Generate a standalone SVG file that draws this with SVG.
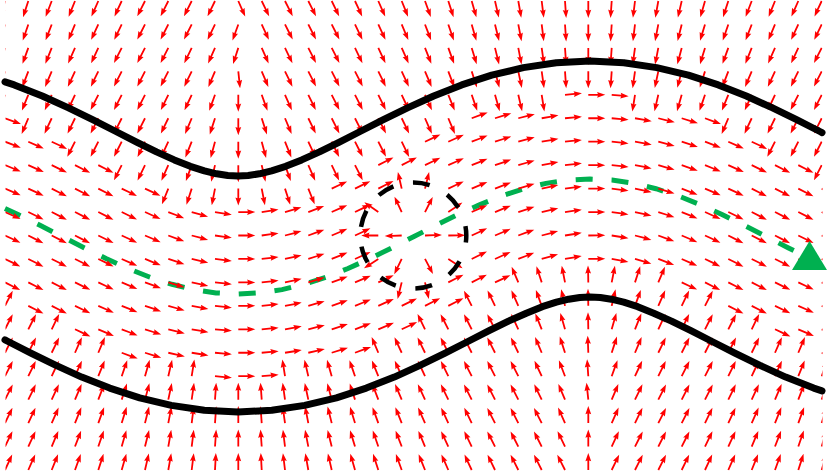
<svg xmlns="http://www.w3.org/2000/svg" xmlns:xlink="http://www.w3.org/1999/xlink" width="829" height="475" viewBox="0 0 829 475">
<style>
.wall{fill:none;stroke:#000;stroke-width:7;stroke-linecap:round;stroke-linejoin:round}
.path{fill:none;stroke:#00b050;stroke-width:5;stroke-dasharray:17 18.9}
.obs{fill:none;stroke:#000;stroke-width:4.5;stroke-dasharray:17 20;stroke-dashoffset:10}
</style>
<defs>
<path id="a" d="M0,-0.9 L9.6,-0.9 L8.8,-2.9 L17,0 L8.8,2.9 L9.6,0.9 L0,0.9 Z" fill="#ff0000"/>
<clipPath id="c"><rect x="5.5" y="0" width="817" height="475"/></clipPath>
</defs>
<rect width="829" height="475" fill="#fff"/>
<g id="centerline"><path class="path" d="M5,208.5 L18,214.5 L40,225.3 L62,236.5 L84,247.7 L106,258.5 L128,268.5 L150,277.2 L172,284.3 L194,289.6 L216,292.9 L238,294 L260,292.9 L282,289.6 L304,284.3 L326,277.2 L348,268.5 L370,258.5 L392,247.7 L414,236.5 L436,225.3 L458,214.5 L480,204.6 L502,195.8 L524,188.7 L546,183.4 L568,180.1 L590,179 L612,180.1 L634,183.4 L656,188.7 L678,195.8 L700,204.6 L722,214.5 L744,225.3 L766,236.5 L788,247.7 L797,252.1"/></g>
<g id="field" clip-path="url(#c)">
<g transform="translate(0,1)"><use href="#a" transform="translate(5)rotate(106)"/><use href="#a" transform="translate(28.3)rotate(108)"/><use href="#a" transform="translate(51.7)rotate(111)"/><use href="#a" transform="translate(75)rotate(112)"/><use href="#a" transform="translate(98.3)rotate(114)"/><use href="#a" transform="translate(121.7)rotate(115)"/><use href="#a" transform="translate(145)rotate(117)"/><use href="#a" transform="translate(168.3)rotate(117)"/><use href="#a" transform="translate(191.7)rotate(117)"/><use href="#a" transform="translate(215)rotate(116)"/><use href="#a" transform="translate(238.3)rotate(66)"/><use href="#a" transform="translate(261.7)rotate(64)"/><use href="#a" transform="translate(285)rotate(63)"/><use href="#a" transform="translate(308.3)rotate(63)"/><use href="#a" transform="translate(331.7)rotate(64)"/><use href="#a" transform="translate(355)rotate(65)"/><use href="#a" transform="translate(378.3)rotate(66)"/><use href="#a" transform="translate(401.7)rotate(68)"/><use href="#a" transform="translate(425)rotate(70)"/><use href="#a" transform="translate(448.3)rotate(72)"/><use href="#a" transform="translate(471.7)rotate(74)"/><use href="#a" transform="translate(495)rotate(77)"/><use href="#a" transform="translate(518.3)rotate(80)"/><use href="#a" transform="translate(541.7)rotate(83)"/><use href="#a" transform="translate(565)rotate(86)"/><use href="#a" transform="translate(588.3)rotate(90)"/><use href="#a" transform="translate(611.7)rotate(94)"/><use href="#a" transform="translate(635)rotate(97)"/><use href="#a" transform="translate(658.3)rotate(100)"/><use href="#a" transform="translate(681.7)rotate(103)"/><use href="#a" transform="translate(705)rotate(106)"/><use href="#a" transform="translate(728.3)rotate(108)"/><use href="#a" transform="translate(751.7)rotate(111)"/><use href="#a" transform="translate(775)rotate(112)"/><use href="#a" transform="translate(798.3)rotate(114)"/><use href="#a" transform="translate(821.7)rotate(115)"/></g>
<g transform="translate(0,24.45)"><use href="#a" transform="translate(5)rotate(107)"/><use href="#a" transform="translate(28.3)rotate(109)"/><use href="#a" transform="translate(51.7)rotate(111)"/><use href="#a" transform="translate(75)rotate(113)"/><use href="#a" transform="translate(98.3)rotate(115)"/><use href="#a" transform="translate(121.7)rotate(116)"/><use href="#a" transform="translate(145)rotate(117)"/><use href="#a" transform="translate(168.3)rotate(117)"/><use href="#a" transform="translate(191.7)rotate(117)"/><use href="#a" transform="translate(215)rotate(116)"/><use href="#a" transform="translate(238.3)rotate(110)"/><use href="#a" transform="translate(261.7)rotate(65)"/><use href="#a" transform="translate(285)rotate(63)"/><use href="#a" transform="translate(308.3)rotate(63)"/><use href="#a" transform="translate(331.7)rotate(63)"/><use href="#a" transform="translate(355)rotate(64)"/><use href="#a" transform="translate(378.3)rotate(65)"/><use href="#a" transform="translate(401.7)rotate(67)"/><use href="#a" transform="translate(425)rotate(69)"/><use href="#a" transform="translate(448.3)rotate(71)"/><use href="#a" transform="translate(471.7)rotate(74)"/><use href="#a" transform="translate(495)rotate(76)"/><use href="#a" transform="translate(518.3)rotate(79)"/><use href="#a" transform="translate(541.7)rotate(83)"/><use href="#a" transform="translate(565)rotate(86)"/><use href="#a" transform="translate(588.3)rotate(90)"/><use href="#a" transform="translate(611.7)rotate(94)"/><use href="#a" transform="translate(635)rotate(97)"/><use href="#a" transform="translate(658.3)rotate(101)"/><use href="#a" transform="translate(681.7)rotate(104)"/><use href="#a" transform="translate(705)rotate(107)"/><use href="#a" transform="translate(728.3)rotate(109)"/><use href="#a" transform="translate(751.7)rotate(111)"/><use href="#a" transform="translate(775)rotate(113)"/><use href="#a" transform="translate(798.3)rotate(115)"/><use href="#a" transform="translate(821.7)rotate(116)"/></g>
<g transform="translate(0,47.9)"><use href="#a" transform="translate(5)rotate(107)"/><use href="#a" transform="translate(28.3)rotate(110)"/><use href="#a" transform="translate(51.7)rotate(112)"/><use href="#a" transform="translate(75)rotate(114)"/><use href="#a" transform="translate(98.3)rotate(115)"/><use href="#a" transform="translate(121.7)rotate(117)"/><use href="#a" transform="translate(145)rotate(117)"/><use href="#a" transform="translate(168.3)rotate(117)"/><use href="#a" transform="translate(191.7)rotate(116)"/><use href="#a" transform="translate(215)rotate(114)"/><use href="#a" transform="translate(238.3)rotate(108)"/><use href="#a" transform="translate(261.7)rotate(66)"/><use href="#a" transform="translate(285)rotate(64)"/><use href="#a" transform="translate(308.3)rotate(63)"/><use href="#a" transform="translate(331.7)rotate(63)"/><use href="#a" transform="translate(355)rotate(64)"/><use href="#a" transform="translate(378.3)rotate(65)"/><use href="#a" transform="translate(401.7)rotate(66)"/><use href="#a" transform="translate(425)rotate(68)"/><use href="#a" transform="translate(448.3)rotate(70)"/><use href="#a" transform="translate(471.7)rotate(73)"/><use href="#a" transform="translate(495)rotate(76)"/><use href="#a" transform="translate(518.3)rotate(79)"/><use href="#a" transform="translate(541.7)rotate(82)"/><use href="#a" transform="translate(565)rotate(86)"/><use href="#a" transform="translate(588.3)rotate(90)"/><use href="#a" transform="translate(611.7)rotate(94)"/><use href="#a" transform="translate(635)rotate(98)"/><use href="#a" transform="translate(658.3)rotate(101)"/><use href="#a" transform="translate(681.7)rotate(105)"/><use href="#a" transform="translate(705)rotate(107)"/><use href="#a" transform="translate(728.3)rotate(110)"/><use href="#a" transform="translate(751.7)rotate(112)"/><use href="#a" transform="translate(775)rotate(114)"/><use href="#a" transform="translate(798.3)rotate(115)"/><use href="#a" transform="translate(821.7)rotate(117)"/></g>
<g transform="translate(0,71.35)"><use href="#a" transform="translate(5)rotate(108)"/><use href="#a" transform="translate(28.3)rotate(111)"/><use href="#a" transform="translate(51.7)rotate(113)"/><use href="#a" transform="translate(75)rotate(115)"/><use href="#a" transform="translate(98.3)rotate(116)"/><use href="#a" transform="translate(121.7)rotate(117)"/><use href="#a" transform="translate(145)rotate(117)"/><use href="#a" transform="translate(168.3)rotate(117)"/><use href="#a" transform="translate(191.7)rotate(116)"/><use href="#a" transform="translate(215)rotate(113)"/><use href="#a" transform="translate(238.3)rotate(84)"/><use href="#a" transform="translate(261.7)rotate(67)"/><use href="#a" transform="translate(285)rotate(64)"/><use href="#a" transform="translate(308.3)rotate(63)"/><use href="#a" transform="translate(331.7)rotate(63)"/><use href="#a" transform="translate(355)rotate(63)"/><use href="#a" transform="translate(378.3)rotate(64)"/><use href="#a" transform="translate(401.7)rotate(65)"/><use href="#a" transform="translate(425)rotate(67)"/><use href="#a" transform="translate(448.3)rotate(69)"/><use href="#a" transform="translate(471.7)rotate(72)"/><use href="#a" transform="translate(495)rotate(75)"/><use href="#a" transform="translate(518.3)rotate(78)"/><use href="#a" transform="translate(541.7)rotate(82)"/><use href="#a" transform="translate(565)rotate(86)"/><use href="#a" transform="translate(588.3)rotate(90)"/><use href="#a" transform="translate(611.7)rotate(94)"/><use href="#a" transform="translate(635)rotate(98)"/><use href="#a" transform="translate(658.3)rotate(102)"/><use href="#a" transform="translate(681.7)rotate(105)"/><use href="#a" transform="translate(705)rotate(108)"/><use href="#a" transform="translate(728.3)rotate(111)"/><use href="#a" transform="translate(751.7)rotate(113)"/><use href="#a" transform="translate(775)rotate(115)"/><use href="#a" transform="translate(798.3)rotate(116)"/><use href="#a" transform="translate(821.7)rotate(117)"/></g>
<g transform="translate(0,94.8)"><use href="#a" transform="translate(5)rotate(109)"/><use href="#a" transform="translate(28.3)rotate(112)"/><use href="#a" transform="translate(51.7)rotate(114)"/><use href="#a" transform="translate(75)rotate(115)"/><use href="#a" transform="translate(98.3)rotate(117)"/><use href="#a" transform="translate(121.7)rotate(117)"/><use href="#a" transform="translate(145)rotate(117)"/><use href="#a" transform="translate(168.3)rotate(116)"/><use href="#a" transform="translate(191.7)rotate(115)"/><use href="#a" transform="translate(215)rotate(110)"/><use href="#a" transform="translate(238.3)rotate(90)"/><use href="#a" transform="translate(261.7)rotate(70)"/><use href="#a" transform="translate(285)rotate(66)"/><use href="#a" transform="translate(308.3)rotate(64)"/><use href="#a" transform="translate(331.7)rotate(63)"/><use href="#a" transform="translate(355)rotate(63)"/><use href="#a" transform="translate(378.3)rotate(64)"/><use href="#a" transform="translate(401.7)rotate(65)"/><use href="#a" transform="translate(425)rotate(66)"/><use href="#a" transform="translate(448.3)rotate(68)"/><use href="#a" transform="translate(471.7)rotate(71)"/><use href="#a" transform="translate(495)rotate(74)"/><use href="#a" transform="translate(518.3)rotate(77)"/><use href="#a" transform="translate(541.7)rotate(81)"/><use href="#a" transform="translate(565)rotate(-5)"/><use href="#a" transform="translate(588.3)rotate(0)"/><use href="#a" transform="translate(611.7)rotate(5)"/><use href="#a" transform="translate(635)rotate(99)"/><use href="#a" transform="translate(658.3)rotate(103)"/><use href="#a" transform="translate(681.7)rotate(106)"/><use href="#a" transform="translate(705)rotate(109)"/><use href="#a" transform="translate(728.3)rotate(112)"/><use href="#a" transform="translate(751.7)rotate(114)"/><use href="#a" transform="translate(775)rotate(115)"/><use href="#a" transform="translate(798.3)rotate(117)"/><use href="#a" transform="translate(821.7)rotate(117)"/></g>
<g transform="translate(0,118.25)"><use href="#a" transform="translate(5)rotate(20)"/><use href="#a" transform="translate(28.3)rotate(113)"/><use href="#a" transform="translate(51.7)rotate(115)"/><use href="#a" transform="translate(75)rotate(116)"/><use href="#a" transform="translate(98.3)rotate(117)"/><use href="#a" transform="translate(121.7)rotate(117)"/><use href="#a" transform="translate(145)rotate(117)"/><use href="#a" transform="translate(168.3)rotate(116)"/><use href="#a" transform="translate(191.7)rotate(113)"/><use href="#a" transform="translate(215)rotate(108)"/><use href="#a" transform="translate(238.3)rotate(90)"/><use href="#a" transform="translate(261.7)rotate(72)"/><use href="#a" transform="translate(285)rotate(67)"/><use href="#a" transform="translate(308.3)rotate(64)"/><use href="#a" transform="translate(331.7)rotate(63)"/><use href="#a" transform="translate(355)rotate(63)"/><use href="#a" transform="translate(378.3)rotate(63)"/><use href="#a" transform="translate(401.7)rotate(64)"/><use href="#a" transform="translate(425)rotate(66)"/><use href="#a" transform="translate(448.3)rotate(67)"/><use href="#a" transform="translate(471.7)rotate(-20)"/><use href="#a" transform="translate(495)rotate(-17)"/><use href="#a" transform="translate(518.3)rotate(-14)"/><use href="#a" transform="translate(541.7)rotate(-10)"/><use href="#a" transform="translate(565)rotate(-5)"/><use href="#a" transform="translate(588.3)rotate(0)"/><use href="#a" transform="translate(611.7)rotate(5)"/><use href="#a" transform="translate(635)rotate(10)"/><use href="#a" transform="translate(658.3)rotate(14)"/><use href="#a" transform="translate(681.7)rotate(17)"/><use href="#a" transform="translate(705)rotate(20)"/><use href="#a" transform="translate(728.3)rotate(113)"/><use href="#a" transform="translate(751.7)rotate(115)"/><use href="#a" transform="translate(775)rotate(116)"/><use href="#a" transform="translate(798.3)rotate(117)"/><use href="#a" transform="translate(821.7)rotate(117)"/></g>
<g transform="translate(0,141.7)"><use href="#a" transform="translate(5)rotate(21)"/><use href="#a" transform="translate(28.3)rotate(24)"/><use href="#a" transform="translate(51.7)rotate(25)"/><use href="#a" transform="translate(75)rotate(117)"/><use href="#a" transform="translate(98.3)rotate(117)"/><use href="#a" transform="translate(121.7)rotate(117)"/><use href="#a" transform="translate(145)rotate(116)"/><use href="#a" transform="translate(168.3)rotate(115)"/><use href="#a" transform="translate(191.7)rotate(112)"/><use href="#a" transform="translate(215)rotate(105)"/><use href="#a" transform="translate(238.3)rotate(90)"/><use href="#a" transform="translate(261.7)rotate(75)"/><use href="#a" transform="translate(285)rotate(68)"/><use href="#a" transform="translate(308.3)rotate(65)"/><use href="#a" transform="translate(331.7)rotate(64)"/><use href="#a" transform="translate(355)rotate(63)"/><use href="#a" transform="translate(378.3)rotate(63)"/><use href="#a" transform="translate(401.7)rotate(64)"/><use href="#a" transform="translate(425)rotate(-25)"/><use href="#a" transform="translate(448.3)rotate(-24)"/><use href="#a" transform="translate(471.7)rotate(-21)"/><use href="#a" transform="translate(495)rotate(-18)"/><use href="#a" transform="translate(518.3)rotate(-15)"/><use href="#a" transform="translate(541.7)rotate(-10)"/><use href="#a" transform="translate(565)rotate(-6)"/><use href="#a" transform="translate(588.3)rotate(0)"/><use href="#a" transform="translate(611.7)rotate(6)"/><use href="#a" transform="translate(635)rotate(10)"/><use href="#a" transform="translate(658.3)rotate(15)"/><use href="#a" transform="translate(681.7)rotate(18)"/><use href="#a" transform="translate(705)rotate(21)"/><use href="#a" transform="translate(728.3)rotate(24)"/><use href="#a" transform="translate(751.7)rotate(25)"/><use href="#a" transform="translate(775)rotate(117)"/><use href="#a" transform="translate(798.3)rotate(117)"/><use href="#a" transform="translate(821.7)rotate(117)"/></g>
<g transform="translate(0,165.15)"><use href="#a" transform="translate(5)rotate(22)"/><use href="#a" transform="translate(28.3)rotate(24)"/><use href="#a" transform="translate(51.7)rotate(26)"/><use href="#a" transform="translate(75)rotate(27)"/><use href="#a" transform="translate(98.3)rotate(27)"/><use href="#a" transform="translate(121.7)rotate(117)"/><use href="#a" transform="translate(145)rotate(116)"/><use href="#a" transform="translate(168.3)rotate(114)"/><use href="#a" transform="translate(191.7)rotate(110)"/><use href="#a" transform="translate(215)rotate(103)"/><use href="#a" transform="translate(238.3)rotate(90)"/><use href="#a" transform="translate(261.7)rotate(77)"/><use href="#a" transform="translate(285)rotate(70)"/><use href="#a" transform="translate(308.3)rotate(66)"/><use href="#a" transform="translate(331.7)rotate(64)"/><use href="#a" transform="translate(355)rotate(63)"/><use href="#a" transform="translate(378.3)rotate(-27)"/><use href="#a" transform="translate(401.7)rotate(-27)"/><use href="#a" transform="translate(425)rotate(-26)"/><use href="#a" transform="translate(448.3)rotate(-24)"/><use href="#a" transform="translate(471.7)rotate(-22)"/><use href="#a" transform="translate(495)rotate(-19)"/><use href="#a" transform="translate(518.3)rotate(-16)"/><use href="#a" transform="translate(541.7)rotate(-11)"/><use href="#a" transform="translate(565)rotate(-6)"/><use href="#a" transform="translate(588.3)rotate(0)"/><use href="#a" transform="translate(611.7)rotate(6)"/><use href="#a" transform="translate(635)rotate(11)"/><use href="#a" transform="translate(658.3)rotate(16)"/><use href="#a" transform="translate(681.7)rotate(19)"/><use href="#a" transform="translate(705)rotate(22)"/><use href="#a" transform="translate(728.3)rotate(24)"/><use href="#a" transform="translate(751.7)rotate(26)"/><use href="#a" transform="translate(775)rotate(27)"/><use href="#a" transform="translate(798.3)rotate(27)"/><use href="#a" transform="translate(821.7)rotate(117)"/></g>
<g transform="translate(0,188.6)"><use href="#a" transform="translate(5)rotate(23)"/><use href="#a" transform="translate(28.3)rotate(25)"/><use href="#a" transform="translate(51.7)rotate(27)"/><use href="#a" transform="translate(75)rotate(27)"/><use href="#a" transform="translate(98.3)rotate(27)"/><use href="#a" transform="translate(121.7)rotate(26)"/><use href="#a" transform="translate(145)rotate(25)"/><use href="#a" transform="translate(168.3)rotate(112)"/><use href="#a" transform="translate(191.7)rotate(108)"/><use href="#a" transform="translate(215)rotate(101)"/><use href="#a" transform="translate(238.3)rotate(90)"/><use href="#a" transform="translate(261.7)rotate(79)"/><use href="#a" transform="translate(285)rotate(72)"/><use href="#a" transform="translate(308.3)rotate(68)"/><use href="#a" transform="translate(331.7)rotate(-25)"/><use href="#a" transform="translate(355)rotate(-26)"/><use href="#a" transform="translate(378.3)rotate(-27)"/><use href="#a" transform="translate(401.7)rotate(-103)"/><use href="#a" transform="translate(425)rotate(-76)"/><use href="#a" transform="translate(448.3)rotate(-25)"/><use href="#a" transform="translate(471.7)rotate(-23)"/><use href="#a" transform="translate(495)rotate(-21)"/><use href="#a" transform="translate(518.3)rotate(-17)"/><use href="#a" transform="translate(541.7)rotate(-12)"/><use href="#a" transform="translate(565)rotate(-7)"/><use href="#a" transform="translate(588.3)rotate(0)"/><use href="#a" transform="translate(611.7)rotate(7)"/><use href="#a" transform="translate(635)rotate(12)"/><use href="#a" transform="translate(658.3)rotate(17)"/><use href="#a" transform="translate(681.7)rotate(21)"/><use href="#a" transform="translate(705)rotate(23)"/><use href="#a" transform="translate(728.3)rotate(25)"/><use href="#a" transform="translate(751.7)rotate(27)"/><use href="#a" transform="translate(775)rotate(27)"/><use href="#a" transform="translate(798.3)rotate(27)"/><use href="#a" transform="translate(821.7)rotate(26)"/></g>
<g transform="translate(0,212.05)"><use href="#a" transform="translate(5)rotate(24)"/><use href="#a" transform="translate(28.3)rotate(26)"/><use href="#a" transform="translate(51.7)rotate(27)"/><use href="#a" transform="translate(75)rotate(27)"/><use href="#a" transform="translate(98.3)rotate(27)"/><use href="#a" transform="translate(121.7)rotate(26)"/><use href="#a" transform="translate(145)rotate(24)"/><use href="#a" transform="translate(168.3)rotate(21)"/><use href="#a" transform="translate(191.7)rotate(16)"/><use href="#a" transform="translate(215)rotate(9)"/><use href="#a" transform="translate(238.3)rotate(0)"/><use href="#a" transform="translate(261.7)rotate(-9)"/><use href="#a" transform="translate(285)rotate(-16)"/><use href="#a" transform="translate(308.3)rotate(-21)"/><use href="#a" transform="translate(331.7)rotate(-24)"/><use href="#a" transform="translate(355)rotate(-26)"/><use href="#a" transform="translate(378.3)rotate(-145)"/><use href="#a" transform="translate(401.7)rotate(-115)"/><use href="#a" transform="translate(425)rotate(-63)"/><use href="#a" transform="translate(448.3)rotate(-34)"/><use href="#a" transform="translate(471.7)rotate(-24)"/><use href="#a" transform="translate(495)rotate(-22)"/><use href="#a" transform="translate(518.3)rotate(-18)"/><use href="#a" transform="translate(541.7)rotate(-13)"/><use href="#a" transform="translate(565)rotate(-8)"/><use href="#a" transform="translate(588.3)rotate(0)"/><use href="#a" transform="translate(611.7)rotate(8)"/><use href="#a" transform="translate(635)rotate(13)"/><use href="#a" transform="translate(658.3)rotate(18)"/><use href="#a" transform="translate(681.7)rotate(22)"/><use href="#a" transform="translate(705)rotate(24)"/><use href="#a" transform="translate(728.3)rotate(26)"/><use href="#a" transform="translate(751.7)rotate(27)"/><use href="#a" transform="translate(775)rotate(27)"/><use href="#a" transform="translate(798.3)rotate(27)"/><use href="#a" transform="translate(821.7)rotate(26)"/></g>
<g transform="translate(0,235.5)"><use href="#a" transform="translate(5)rotate(25)"/><use href="#a" transform="translate(28.3)rotate(27)"/><use href="#a" transform="translate(51.7)rotate(27)"/><use href="#a" transform="translate(75)rotate(27)"/><use href="#a" transform="translate(98.3)rotate(26)"/><use href="#a" transform="translate(121.7)rotate(25)"/><use href="#a" transform="translate(145)rotate(23)"/><use href="#a" transform="translate(168.3)rotate(20)"/><use href="#a" transform="translate(191.7)rotate(15)"/><use href="#a" transform="translate(215)rotate(8)"/><use href="#a" transform="translate(238.3)rotate(0)"/><use href="#a" transform="translate(261.7)rotate(-8)"/><use href="#a" transform="translate(285)rotate(-15)"/><use href="#a" transform="translate(308.3)rotate(-20)"/><use href="#a" transform="translate(331.7)rotate(-23)"/><use href="#a" transform="translate(355)rotate(-25)"/><use href="#a" transform="translate(378.3)rotate(180)"/><use href="#a" transform="translate(401.7)rotate(178)"/><use href="#a" transform="translate(425)rotate(-2)"/><use href="#a" transform="translate(448.3)rotate(-1)"/><use href="#a" transform="translate(471.7)rotate(-25)"/><use href="#a" transform="translate(495)rotate(-23)"/><use href="#a" transform="translate(518.3)rotate(-20)"/><use href="#a" transform="translate(541.7)rotate(-15)"/><use href="#a" transform="translate(565)rotate(-9)"/><use href="#a" transform="translate(588.3)rotate(-1)"/><use href="#a" transform="translate(611.7)rotate(9)"/><use href="#a" transform="translate(635)rotate(15)"/><use href="#a" transform="translate(658.3)rotate(20)"/><use href="#a" transform="translate(681.7)rotate(23)"/><use href="#a" transform="translate(705)rotate(25)"/><use href="#a" transform="translate(728.3)rotate(27)"/><use href="#a" transform="translate(751.7)rotate(27)"/><use href="#a" transform="translate(775)rotate(27)"/><use href="#a" transform="translate(798.3)rotate(26)"/><use href="#a" transform="translate(821.7)rotate(25)"/></g>
<g transform="translate(0,258.95)"><use href="#a" transform="translate(5)rotate(26)"/><use href="#a" transform="translate(28.3)rotate(27)"/><use href="#a" transform="translate(51.7)rotate(27)"/><use href="#a" transform="translate(75)rotate(27)"/><use href="#a" transform="translate(98.3)rotate(26)"/><use href="#a" transform="translate(121.7)rotate(24)"/><use href="#a" transform="translate(145)rotate(22)"/><use href="#a" transform="translate(168.3)rotate(18)"/><use href="#a" transform="translate(191.7)rotate(13)"/><use href="#a" transform="translate(215)rotate(7)"/><use href="#a" transform="translate(238.3)rotate(0)"/><use href="#a" transform="translate(261.7)rotate(-7)"/><use href="#a" transform="translate(285)rotate(-13)"/><use href="#a" transform="translate(308.3)rotate(-18)"/><use href="#a" transform="translate(331.7)rotate(-22)"/><use href="#a" transform="translate(355)rotate(-24)"/><use href="#a" transform="translate(378.3)rotate(147)"/><use href="#a" transform="translate(401.7)rotate(116)"/><use href="#a" transform="translate(425)rotate(62)"/><use href="#a" transform="translate(448.3)rotate(33)"/><use href="#a" transform="translate(471.7)rotate(-26)"/><use href="#a" transform="translate(495)rotate(-24)"/><use href="#a" transform="translate(518.3)rotate(-21)"/><use href="#a" transform="translate(541.7)rotate(-16)"/><use href="#a" transform="translate(565)rotate(-10)"/><use href="#a" transform="translate(588.3)rotate(-1)"/><use href="#a" transform="translate(611.7)rotate(10)"/><use href="#a" transform="translate(635)rotate(16)"/><use href="#a" transform="translate(658.3)rotate(21)"/><use href="#a" transform="translate(681.7)rotate(24)"/><use href="#a" transform="translate(705)rotate(26)"/><use href="#a" transform="translate(728.3)rotate(27)"/><use href="#a" transform="translate(751.7)rotate(27)"/><use href="#a" transform="translate(775)rotate(27)"/><use href="#a" transform="translate(798.3)rotate(26)"/><use href="#a" transform="translate(821.7)rotate(24)"/></g>
<g transform="translate(0,282.4)"><use href="#a" transform="translate(5)rotate(27)"/><use href="#a" transform="translate(28.3)rotate(27)"/><use href="#a" transform="translate(51.7)rotate(27)"/><use href="#a" transform="translate(75)rotate(26)"/><use href="#a" transform="translate(98.3)rotate(25)"/><use href="#a" transform="translate(121.7)rotate(23)"/><use href="#a" transform="translate(145)rotate(20)"/><use href="#a" transform="translate(168.3)rotate(17)"/><use href="#a" transform="translate(191.7)rotate(12)"/><use href="#a" transform="translate(215)rotate(6)"/><use href="#a" transform="translate(238.3)rotate(0)"/><use href="#a" transform="translate(261.7)rotate(-6)"/><use href="#a" transform="translate(285)rotate(-12)"/><use href="#a" transform="translate(308.3)rotate(-17)"/><use href="#a" transform="translate(331.7)rotate(-20)"/><use href="#a" transform="translate(355)rotate(-23)"/><use href="#a" transform="translate(378.3)rotate(-25)"/><use href="#a" transform="translate(401.7)rotate(104)"/><use href="#a" transform="translate(425)rotate(77)"/><use href="#a" transform="translate(448.3)rotate(-27)"/><use href="#a" transform="translate(471.7)rotate(-27)"/><use href="#a" transform="translate(495)rotate(-25)"/><use href="#a" transform="translate(518.3)rotate(-113)"/><use href="#a" transform="translate(541.7)rotate(-108)"/><use href="#a" transform="translate(565)rotate(-101)"/><use href="#a" transform="translate(588.3)rotate(-91)"/><use href="#a" transform="translate(611.7)rotate(-79)"/><use href="#a" transform="translate(635)rotate(-72)"/><use href="#a" transform="translate(658.3)rotate(-67)"/><use href="#a" transform="translate(681.7)rotate(25)"/><use href="#a" transform="translate(705)rotate(27)"/><use href="#a" transform="translate(728.3)rotate(27)"/><use href="#a" transform="translate(751.7)rotate(27)"/><use href="#a" transform="translate(775)rotate(26)"/><use href="#a" transform="translate(798.3)rotate(25)"/><use href="#a" transform="translate(821.7)rotate(23)"/></g>
<g transform="translate(0,305.85)"><use href="#a" transform="translate(5)rotate(-63)"/><use href="#a" transform="translate(28.3)rotate(27)"/><use href="#a" transform="translate(51.7)rotate(27)"/><use href="#a" transform="translate(75)rotate(26)"/><use href="#a" transform="translate(98.3)rotate(24)"/><use href="#a" transform="translate(121.7)rotate(22)"/><use href="#a" transform="translate(145)rotate(19)"/><use href="#a" transform="translate(168.3)rotate(16)"/><use href="#a" transform="translate(191.7)rotate(11)"/><use href="#a" transform="translate(215)rotate(6)"/><use href="#a" transform="translate(238.3)rotate(0)"/><use href="#a" transform="translate(261.7)rotate(-6)"/><use href="#a" transform="translate(285)rotate(-11)"/><use href="#a" transform="translate(308.3)rotate(-16)"/><use href="#a" transform="translate(331.7)rotate(-19)"/><use href="#a" transform="translate(355)rotate(-22)"/><use href="#a" transform="translate(378.3)rotate(-24)"/><use href="#a" transform="translate(401.7)rotate(-26)"/><use href="#a" transform="translate(425)rotate(-27)"/><use href="#a" transform="translate(448.3)rotate(-27)"/><use href="#a" transform="translate(471.7)rotate(-117)"/><use href="#a" transform="translate(495)rotate(-116)"/><use href="#a" transform="translate(518.3)rotate(-114)"/><use href="#a" transform="translate(541.7)rotate(-110)"/><use href="#a" transform="translate(565)rotate(-103)"/><use href="#a" transform="translate(588.3)rotate(-91)"/><use href="#a" transform="translate(611.7)rotate(-77)"/><use href="#a" transform="translate(635)rotate(-70)"/><use href="#a" transform="translate(658.3)rotate(-66)"/><use href="#a" transform="translate(681.7)rotate(-64)"/><use href="#a" transform="translate(705)rotate(-63)"/><use href="#a" transform="translate(728.3)rotate(27)"/><use href="#a" transform="translate(751.7)rotate(27)"/><use href="#a" transform="translate(775)rotate(26)"/><use href="#a" transform="translate(798.3)rotate(24)"/><use href="#a" transform="translate(821.7)rotate(22)"/></g>
<g transform="translate(0,329.3)"><use href="#a" transform="translate(5)rotate(-63)"/><use href="#a" transform="translate(28.3)rotate(-63)"/><use href="#a" transform="translate(51.7)rotate(-64)"/><use href="#a" transform="translate(75)rotate(25)"/><use href="#a" transform="translate(98.3)rotate(23)"/><use href="#a" transform="translate(121.7)rotate(21)"/><use href="#a" transform="translate(145)rotate(18)"/><use href="#a" transform="translate(168.3)rotate(14)"/><use href="#a" transform="translate(191.7)rotate(10)"/><use href="#a" transform="translate(215)rotate(5)"/><use href="#a" transform="translate(238.3)rotate(0)"/><use href="#a" transform="translate(261.7)rotate(-5)"/><use href="#a" transform="translate(285)rotate(-10)"/><use href="#a" transform="translate(308.3)rotate(-14)"/><use href="#a" transform="translate(331.7)rotate(-18)"/><use href="#a" transform="translate(355)rotate(-21)"/><use href="#a" transform="translate(378.3)rotate(-23)"/><use href="#a" transform="translate(401.7)rotate(-25)"/><use href="#a" transform="translate(425)rotate(-116)"/><use href="#a" transform="translate(448.3)rotate(-117)"/><use href="#a" transform="translate(471.7)rotate(-117)"/><use href="#a" transform="translate(495)rotate(-117)"/><use href="#a" transform="translate(518.3)rotate(-115)"/><use href="#a" transform="translate(541.7)rotate(-112)"/><use href="#a" transform="translate(565)rotate(-106)"/><use href="#a" transform="translate(588.3)rotate(-91)"/><use href="#a" transform="translate(611.7)rotate(-74)"/><use href="#a" transform="translate(635)rotate(-68)"/><use href="#a" transform="translate(658.3)rotate(-65)"/><use href="#a" transform="translate(681.7)rotate(-64)"/><use href="#a" transform="translate(705)rotate(-63)"/><use href="#a" transform="translate(728.3)rotate(-63)"/><use href="#a" transform="translate(751.7)rotate(-64)"/><use href="#a" transform="translate(775)rotate(25)"/><use href="#a" transform="translate(798.3)rotate(23)"/><use href="#a" transform="translate(821.7)rotate(21)"/></g>
<g transform="translate(0,352.75)"><use href="#a" transform="translate(5)rotate(-63)"/><use href="#a" transform="translate(28.3)rotate(-63)"/><use href="#a" transform="translate(51.7)rotate(-64)"/><use href="#a" transform="translate(75)rotate(-66)"/><use href="#a" transform="translate(98.3)rotate(-67)"/><use href="#a" transform="translate(121.7)rotate(20)"/><use href="#a" transform="translate(145)rotate(17)"/><use href="#a" transform="translate(168.3)rotate(13)"/><use href="#a" transform="translate(191.7)rotate(9)"/><use href="#a" transform="translate(215)rotate(5)"/><use href="#a" transform="translate(238.3)rotate(0)"/><use href="#a" transform="translate(261.7)rotate(-5)"/><use href="#a" transform="translate(285)rotate(-9)"/><use href="#a" transform="translate(308.3)rotate(-13)"/><use href="#a" transform="translate(331.7)rotate(-17)"/><use href="#a" transform="translate(355)rotate(-20)"/><use href="#a" transform="translate(378.3)rotate(-113)"/><use href="#a" transform="translate(401.7)rotate(-115)"/><use href="#a" transform="translate(425)rotate(-116)"/><use href="#a" transform="translate(448.3)rotate(-117)"/><use href="#a" transform="translate(471.7)rotate(-117)"/><use href="#a" transform="translate(495)rotate(-117)"/><use href="#a" transform="translate(518.3)rotate(-116)"/><use href="#a" transform="translate(541.7)rotate(-113)"/><use href="#a" transform="translate(565)rotate(-108)"/><use href="#a" transform="translate(588.3)rotate(-92)"/><use href="#a" transform="translate(611.7)rotate(-72)"/><use href="#a" transform="translate(635)rotate(-67)"/><use href="#a" transform="translate(658.3)rotate(-64)"/><use href="#a" transform="translate(681.7)rotate(-63)"/><use href="#a" transform="translate(705)rotate(-63)"/><use href="#a" transform="translate(728.3)rotate(-63)"/><use href="#a" transform="translate(751.7)rotate(-64)"/><use href="#a" transform="translate(775)rotate(-66)"/><use href="#a" transform="translate(798.3)rotate(-67)"/><use href="#a" transform="translate(821.7)rotate(20)"/></g>
<g transform="translate(0,376.2)"><use href="#a" transform="translate(5)rotate(-63)"/><use href="#a" transform="translate(28.3)rotate(-64)"/><use href="#a" transform="translate(51.7)rotate(-65)"/><use href="#a" transform="translate(75)rotate(-66)"/><use href="#a" transform="translate(98.3)rotate(-68)"/><use href="#a" transform="translate(121.7)rotate(-71)"/><use href="#a" transform="translate(145)rotate(-74)"/><use href="#a" transform="translate(168.3)rotate(-77)"/><use href="#a" transform="translate(191.7)rotate(-81)"/><use href="#a" transform="translate(215)rotate(5)"/><use href="#a" transform="translate(238.3)rotate(0)"/><use href="#a" transform="translate(261.7)rotate(-5)"/><use href="#a" transform="translate(285)rotate(-99)"/><use href="#a" transform="translate(308.3)rotate(-103)"/><use href="#a" transform="translate(331.7)rotate(-106)"/><use href="#a" transform="translate(355)rotate(-109)"/><use href="#a" transform="translate(378.3)rotate(-112)"/><use href="#a" transform="translate(401.7)rotate(-114)"/><use href="#a" transform="translate(425)rotate(-115)"/><use href="#a" transform="translate(448.3)rotate(-116)"/><use href="#a" transform="translate(471.7)rotate(-117)"/><use href="#a" transform="translate(495)rotate(-117)"/><use href="#a" transform="translate(518.3)rotate(-117)"/><use href="#a" transform="translate(541.7)rotate(-115)"/><use href="#a" transform="translate(565)rotate(-111)"/><use href="#a" transform="translate(588.3)rotate(-94)"/><use href="#a" transform="translate(611.7)rotate(-70)"/><use href="#a" transform="translate(635)rotate(-65)"/><use href="#a" transform="translate(658.3)rotate(-64)"/><use href="#a" transform="translate(681.7)rotate(-63)"/><use href="#a" transform="translate(705)rotate(-63)"/><use href="#a" transform="translate(728.3)rotate(-64)"/><use href="#a" transform="translate(751.7)rotate(-65)"/><use href="#a" transform="translate(775)rotate(-66)"/><use href="#a" transform="translate(798.3)rotate(-68)"/><use href="#a" transform="translate(821.7)rotate(-71)"/></g>
<g transform="translate(0,399.65)"><use href="#a" transform="translate(5)rotate(-63)"/><use href="#a" transform="translate(28.3)rotate(-64)"/><use href="#a" transform="translate(51.7)rotate(-65)"/><use href="#a" transform="translate(75)rotate(-67)"/><use href="#a" transform="translate(98.3)rotate(-69)"/><use href="#a" transform="translate(121.7)rotate(-72)"/><use href="#a" transform="translate(145)rotate(-75)"/><use href="#a" transform="translate(168.3)rotate(-78)"/><use href="#a" transform="translate(191.7)rotate(-82)"/><use href="#a" transform="translate(215)rotate(-86)"/><use href="#a" transform="translate(238.3)rotate(-90)"/><use href="#a" transform="translate(261.7)rotate(-94)"/><use href="#a" transform="translate(285)rotate(-98)"/><use href="#a" transform="translate(308.3)rotate(-102)"/><use href="#a" transform="translate(331.7)rotate(-105)"/><use href="#a" transform="translate(355)rotate(-108)"/><use href="#a" transform="translate(378.3)rotate(-111)"/><use href="#a" transform="translate(401.7)rotate(-113)"/><use href="#a" transform="translate(425)rotate(-115)"/><use href="#a" transform="translate(448.3)rotate(-116)"/><use href="#a" transform="translate(471.7)rotate(-117)"/><use href="#a" transform="translate(495)rotate(-117)"/><use href="#a" transform="translate(518.3)rotate(-117)"/><use href="#a" transform="translate(541.7)rotate(-116)"/><use href="#a" transform="translate(565)rotate(-113)"/><use href="#a" transform="translate(588.3)rotate(-96)"/><use href="#a" transform="translate(611.7)rotate(-67)"/><use href="#a" transform="translate(635)rotate(-64)"/><use href="#a" transform="translate(658.3)rotate(-63)"/><use href="#a" transform="translate(681.7)rotate(-63)"/><use href="#a" transform="translate(705)rotate(-63)"/><use href="#a" transform="translate(728.3)rotate(-64)"/><use href="#a" transform="translate(751.7)rotate(-65)"/><use href="#a" transform="translate(775)rotate(-67)"/><use href="#a" transform="translate(798.3)rotate(-69)"/><use href="#a" transform="translate(821.7)rotate(-72)"/></g>
<g transform="translate(0,423.1)"><use href="#a" transform="translate(5)rotate(-64)"/><use href="#a" transform="translate(28.3)rotate(-65)"/><use href="#a" transform="translate(51.7)rotate(-66)"/><use href="#a" transform="translate(75)rotate(-68)"/><use href="#a" transform="translate(98.3)rotate(-70)"/><use href="#a" transform="translate(121.7)rotate(-73)"/><use href="#a" transform="translate(145)rotate(-76)"/><use href="#a" transform="translate(168.3)rotate(-79)"/><use href="#a" transform="translate(191.7)rotate(-83)"/><use href="#a" transform="translate(215)rotate(-86)"/><use href="#a" transform="translate(238.3)rotate(-90)"/><use href="#a" transform="translate(261.7)rotate(-94)"/><use href="#a" transform="translate(285)rotate(-98)"/><use href="#a" transform="translate(308.3)rotate(-101)"/><use href="#a" transform="translate(331.7)rotate(-104)"/><use href="#a" transform="translate(355)rotate(-107)"/><use href="#a" transform="translate(378.3)rotate(-110)"/><use href="#a" transform="translate(401.7)rotate(-112)"/><use href="#a" transform="translate(425)rotate(-114)"/><use href="#a" transform="translate(448.3)rotate(-115)"/><use href="#a" transform="translate(471.7)rotate(-116)"/><use href="#a" transform="translate(495)rotate(-117)"/><use href="#a" transform="translate(518.3)rotate(-117)"/><use href="#a" transform="translate(541.7)rotate(-117)"/><use href="#a" transform="translate(565)rotate(-114)"/><use href="#a" transform="translate(588.3)rotate(-90)"/><use href="#a" transform="translate(611.7)rotate(-66)"/><use href="#a" transform="translate(635)rotate(-64)"/><use href="#a" transform="translate(658.3)rotate(-63)"/><use href="#a" transform="translate(681.7)rotate(-63)"/><use href="#a" transform="translate(705)rotate(-64)"/><use href="#a" transform="translate(728.3)rotate(-65)"/><use href="#a" transform="translate(751.7)rotate(-66)"/><use href="#a" transform="translate(775)rotate(-68)"/><use href="#a" transform="translate(798.3)rotate(-70)"/><use href="#a" transform="translate(821.7)rotate(-73)"/></g>
<g transform="translate(0,446.55)"><use href="#a" transform="translate(5)rotate(-64)"/><use href="#a" transform="translate(28.3)rotate(-65)"/><use href="#a" transform="translate(51.7)rotate(-67)"/><use href="#a" transform="translate(75)rotate(-69)"/><use href="#a" transform="translate(98.3)rotate(-71)"/><use href="#a" transform="translate(121.7)rotate(-74)"/><use href="#a" transform="translate(145)rotate(-76)"/><use href="#a" transform="translate(168.3)rotate(-80)"/><use href="#a" transform="translate(191.7)rotate(-83)"/><use href="#a" transform="translate(215)rotate(-86)"/><use href="#a" transform="translate(238.3)rotate(-90)"/><use href="#a" transform="translate(261.7)rotate(-94)"/><use href="#a" transform="translate(285)rotate(-97)"/><use href="#a" transform="translate(308.3)rotate(-101)"/><use href="#a" transform="translate(331.7)rotate(-104)"/><use href="#a" transform="translate(355)rotate(-107)"/><use href="#a" transform="translate(378.3)rotate(-109)"/><use href="#a" transform="translate(401.7)rotate(-111)"/><use href="#a" transform="translate(425)rotate(-113)"/><use href="#a" transform="translate(448.3)rotate(-115)"/><use href="#a" transform="translate(471.7)rotate(-116)"/><use href="#a" transform="translate(495)rotate(-117)"/><use href="#a" transform="translate(518.3)rotate(-117)"/><use href="#a" transform="translate(541.7)rotate(-117)"/><use href="#a" transform="translate(565)rotate(-116)"/><use href="#a" transform="translate(588.3)rotate(-90)"/><use href="#a" transform="translate(611.7)rotate(-65)"/><use href="#a" transform="translate(635)rotate(-63)"/><use href="#a" transform="translate(658.3)rotate(-63)"/><use href="#a" transform="translate(681.7)rotate(-63)"/><use href="#a" transform="translate(705)rotate(-64)"/><use href="#a" transform="translate(728.3)rotate(-65)"/><use href="#a" transform="translate(751.7)rotate(-67)"/><use href="#a" transform="translate(775)rotate(-69)"/><use href="#a" transform="translate(798.3)rotate(-71)"/><use href="#a" transform="translate(821.7)rotate(-74)"/></g>
<g transform="translate(0,470)"><use href="#a" transform="translate(5)rotate(-65)"/><use href="#a" transform="translate(28.3)rotate(-66)"/><use href="#a" transform="translate(51.7)rotate(-68)"/><use href="#a" transform="translate(75)rotate(-70)"/><use href="#a" transform="translate(98.3)rotate(-72)"/><use href="#a" transform="translate(121.7)rotate(-74)"/><use href="#a" transform="translate(145)rotate(-77)"/><use href="#a" transform="translate(168.3)rotate(-80)"/><use href="#a" transform="translate(191.7)rotate(-83)"/><use href="#a" transform="translate(215)rotate(-87)"/><use href="#a" transform="translate(238.3)rotate(-90)"/><use href="#a" transform="translate(261.7)rotate(-93)"/><use href="#a" transform="translate(285)rotate(-97)"/><use href="#a" transform="translate(308.3)rotate(-100)"/><use href="#a" transform="translate(331.7)rotate(-103)"/><use href="#a" transform="translate(355)rotate(-106)"/><use href="#a" transform="translate(378.3)rotate(-108)"/><use href="#a" transform="translate(401.7)rotate(-110)"/><use href="#a" transform="translate(425)rotate(-112)"/><use href="#a" transform="translate(448.3)rotate(-114)"/><use href="#a" transform="translate(471.7)rotate(-115)"/><use href="#a" transform="translate(495)rotate(-116)"/><use href="#a" transform="translate(518.3)rotate(-117)"/><use href="#a" transform="translate(541.7)rotate(-117)"/><use href="#a" transform="translate(565)rotate(-117)"/><use href="#a" transform="translate(588.3)rotate(-90)"/><use href="#a" transform="translate(611.7)rotate(-64)"/><use href="#a" transform="translate(635)rotate(-63)"/><use href="#a" transform="translate(658.3)rotate(-63)"/><use href="#a" transform="translate(681.7)rotate(-64)"/><use href="#a" transform="translate(705)rotate(-65)"/><use href="#a" transform="translate(728.3)rotate(-66)"/><use href="#a" transform="translate(751.7)rotate(-68)"/><use href="#a" transform="translate(775)rotate(-70)"/><use href="#a" transform="translate(798.3)rotate(-72)"/><use href="#a" transform="translate(821.7)rotate(-74)"/></g>
</g>
<g id="walls">
<path id="wall-top" class="wall" d="M5,81.9 L14.3,84.9 L42.3,96 L68.5,107.9 L93.1,119.9 L115.9,131.5 L137.1,142.3 L156.5,151.9 L174.3,159.9 L190.3,166.3 L204.4,170.8 L216.7,173.8 L227.8,175.5 L238,176 L248.2,175.5 L259.3,173.8 L271.6,170.8 L285.7,166.3 L301.7,159.9 L319.5,151.9 L338.9,142.3 L360.1,131.5 L382.9,119.9 L407.5,107.9 L433.7,96 L461.7,84.9 L491.7,75.2 L523.3,67.6 L556.3,62.7 L590,61 L623.8,62.7 L656.7,67.6 L688.4,75.2 L718.3,84.9 L746.3,96 L772.5,107.9 L797.1,119.9 L819.9,131.5 L822,132.6"/>
<path id="wall-bottom" class="wall" d="M5,339.9 L8.1,341.5 L30.9,353.1 L55.5,365.1 L81.7,377.1 L109.7,388.1 L139.7,397.8 L171.3,405.4 L204.3,410.3 L238,412 L271.8,410.3 L304.7,405.4 L336.4,397.8 L366.3,388.1 L394.3,377.1 L420.5,365.1 L445.1,353.1 L467.9,341.5 L489.1,330.7 L508.5,321.1 L526.3,313.2 L542.3,306.7 L556.4,302.2 L568.7,299.2 L579.8,297.5 L590,297 L600.3,297.5 L611.3,299.2 L623.7,302.2 L637.7,306.7 L653.7,313.2 L671.5,321.1 L690.9,330.7 L712.1,341.5 L734.9,353.1 L759.5,365.1 L785.7,377.1 L813.7,388.1 L822,390.8"/>
</g>
<g id="obstacle"><circle class="obs" cx="413.3" cy="235.5" r="53"/></g>
<g id="goal"><polygon points="792,270 827,270 809.5,241" fill="#00b050"/></g>
</svg>
